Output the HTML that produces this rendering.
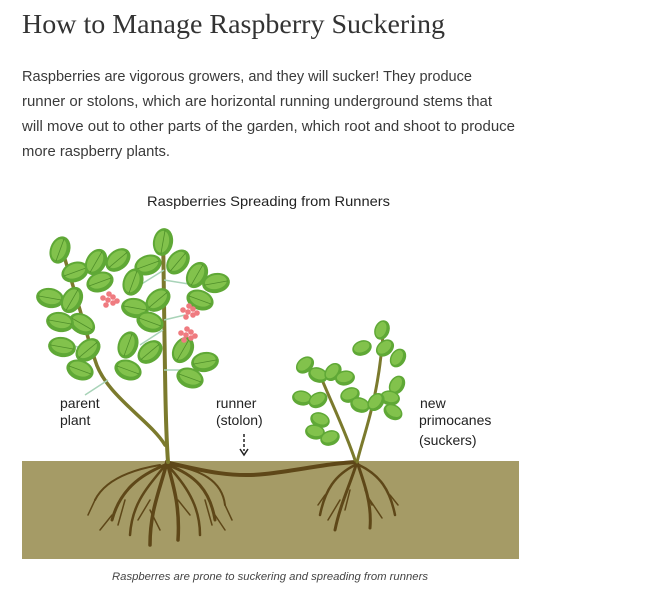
<!DOCTYPE html>
<html><head><meta charset="utf-8"><style>
body{margin:0;background:#fff;width:645px;height:600px;overflow:hidden}
svg{display:block}
</style></head><body>
<svg width="645" height="600" viewBox="0 0 645 600" xmlns="http://www.w3.org/2000/svg">
<defs>
<g id="lf"><ellipse cx="0" cy="0" rx="14" ry="10" fill="#5fa836"/><ellipse cx="0" cy="-1" rx="11" ry="7" fill="#82c24c"/><line x1="-12" y1="0" x2="12" y2="0" stroke="#4f8f2a" stroke-width="0.8"/></g>
<g id="sl"><ellipse cx="0" cy="0" rx="10" ry="7.5" fill="#5fa836"/><ellipse cx="0" cy="-1" rx="8" ry="5" fill="#82c24c"/></g>
<g id="fl" fill="#ef7b80"><circle cx="0" cy="0" r="2.8"/><circle cx="5" cy="-3" r="2.8"/><circle cx="5" cy="3" r="2.8"/><circle cx="-5" cy="-2" r="2.8"/><circle cx="-2" cy="5" r="2.8"/><circle cx="1" cy="-6" r="2.8"/><circle cx="9" cy="1" r="2.8"/></g>
</defs>
<text x="22" y="33" font-family="Liberation Serif, serif" font-size="27" fill="#333" textLength="423" lengthAdjust="spacingAndGlyphs">How to Manage Raspberry Suckering</text>
<g font-family="Liberation Sans, sans-serif" font-size="15" fill="#3a3a3a">
<text x="22" y="81" textLength="450" lengthAdjust="spacingAndGlyphs">Raspberries are vigorous growers, and they will sucker! They produce</text>
<text x="22" y="106" textLength="470" lengthAdjust="spacingAndGlyphs">runner or stolons, which are horizontal running underground stems that</text>
<text x="22" y="131" textLength="493" lengthAdjust="spacingAndGlyphs">will move out to other parts of the garden, which root and shoot to produce</text>
<text x="22" y="156" textLength="148" lengthAdjust="spacingAndGlyphs">more raspberry plants.</text>
</g>
<text x="147" y="206" font-family="Liberation Sans, sans-serif" font-size="14" fill="#222" textLength="243" lengthAdjust="spacingAndGlyphs">Raspberries Spreading from Runners</text>
<rect x="22" y="461" width="497" height="98" fill="#a59b66"/>
<path d="M165 462 C200 470 230 478 265 474 C300 470 330 463 358 462" stroke="#5e4718" stroke-width="4" fill="none"/>
<g stroke="#5e4718" fill="none" stroke-linecap="round">
<path d="M167 462 C160 490 150 510 150 545" stroke-width="3.5"/>
<path d="M167 462 C175 490 180 510 178 540" stroke-width="3.5"/>
<path d="M165 465 C140 475 120 490 112 520" stroke-width="3"/>
<path d="M168 465 C195 475 210 490 215 520" stroke-width="3"/>
<path d="M163 468 C145 490 132 505 130 535" stroke-width="2.5"/>
<path d="M170 468 C190 490 200 510 200 535" stroke-width="2.5"/>
<path d="M160 465 C130 470 105 480 95 500" stroke-width="2"/>
<path d="M172 465 C200 470 222 480 225 505" stroke-width="2"/>
<path d="M150 500 L138 520 M150 510 L160 530 M178 500 L190 515 M125 500 L118 525 M205 500 L212 525 M112 515 L100 530 M215 515 L225 530 M95 500 L88 515 M225 505 L232 520" stroke-width="1.5"/>
</g>
<g stroke="#5e4718" fill="none" stroke-linecap="round">
<path d="M357 462 C350 485 340 505 335 530" stroke-width="3"/>
<path d="M357 462 C365 485 372 505 370 528" stroke-width="3"/>
<path d="M355 465 C335 475 325 490 320 515" stroke-width="2.5"/>
<path d="M359 465 C380 475 390 490 395 515" stroke-width="2.5"/>
<path d="M340 500 L328 520 M370 500 L382 518 M325 495 L318 505 M390 495 L398 505 M350 490 L345 510 M365 490 L372 505" stroke-width="1.5"/>
</g>
<g stroke="#7b7a2d" fill="none" stroke-linecap="round">
<path d="M168 462 C165 420 165 360 163 232" stroke-width="4"/>
<path d="M165 445 C150 420 105 395 95 360 C85 330 75 290 62 250" stroke-width="3.5"/>
</g>
<g stroke="#a8d3b8" stroke-width="1.5">
<line x1="78" y1="300" x2="55" y2="295"/><line x1="90" y1="350" x2="70" y2="345"/><line x1="108" y1="380" x2="85" y2="395"/>
<line x1="164" y1="270" x2="140" y2="285"/><line x1="164" y1="280" x2="195" y2="285"/><line x1="163" y1="330" x2="140" y2="345"/><line x1="164" y1="370" x2="195" y2="370"/><line x1="164" y1="320" x2="185" y2="315"/>
<line x1="80" y1="270" x2="110" y2="258"/>
</g>
<g>
<use href="#lf" transform="translate(60,250) rotate(-70)"/><use href="#lf" transform="translate(75,272) rotate(-20)"/><use href="#lf" transform="translate(96,262) rotate(-60)"/><use href="#lf" transform="translate(118,260) rotate(-40)"/><use href="#lf" transform="translate(100,282) rotate(-20)"/>
<use href="#lf" transform="translate(50,298) rotate(10)"/><use href="#lf" transform="translate(72,300) rotate(-60)"/><use href="#lf" transform="translate(82,324) rotate(30)"/><use href="#lf" transform="translate(60,322) rotate(10)"/>
<use href="#lf" transform="translate(62,347) rotate(10)"/><use href="#lf" transform="translate(88,350) rotate(-40)"/><use href="#lf" transform="translate(80,370) rotate(20)"/>
<use href="#lf" transform="translate(163,242) rotate(-80)"/><use href="#lf" transform="translate(148,265) rotate(-20)"/><use href="#lf" transform="translate(178,262) rotate(-50)"/><use href="#lf" transform="translate(197,275) rotate(-60)"/><use href="#lf" transform="translate(216,283) rotate(-10)"/><use href="#lf" transform="translate(200,300) rotate(20)"/>
<use href="#lf" transform="translate(133,282) rotate(-70)"/><use href="#lf" transform="translate(135,308) rotate(10)"/><use href="#lf" transform="translate(158,300) rotate(-40)"/><use href="#lf" transform="translate(150,322) rotate(20)"/>
<use href="#lf" transform="translate(128,345) rotate(-70)"/><use href="#lf" transform="translate(128,370) rotate(20)"/><use href="#lf" transform="translate(150,352) rotate(-40)"/>
<use href="#lf" transform="translate(183,350) rotate(-60)"/><use href="#lf" transform="translate(205,362) rotate(-10)"/><use href="#lf" transform="translate(190,378) rotate(20)"/>
</g>
<use href="#fl" transform="translate(108,300)"/><use href="#fl" transform="translate(188,312)"/><use href="#fl" transform="translate(186,335)"/>
<g stroke="#7b7a2d" fill="none" stroke-linecap="round" stroke-width="3">
<path d="M357 462 C365 430 378 400 383 335"/>
<path d="M355 460 C345 430 330 400 318 370"/>
</g>
<g>
<use href="#sl" transform="translate(382,330) rotate(-70)"/><use href="#sl" transform="translate(362,348) rotate(-20)"/><use href="#sl" transform="translate(385,348) rotate(-40)"/><use href="#sl" transform="translate(398,358) rotate(-60)"/>
<use href="#sl" transform="translate(397,385) rotate(-60)"/><use href="#sl" transform="translate(390,398) rotate(10)"/><use href="#sl" transform="translate(393,412) rotate(30)"/>
<use href="#sl" transform="translate(350,395) rotate(-20)"/><use href="#sl" transform="translate(360,405) rotate(20)"/><use href="#sl" transform="translate(376,402) rotate(-50)"/>
<use href="#sl" transform="translate(305,365) rotate(-40)"/><use href="#sl" transform="translate(318,375) rotate(20)"/><use href="#sl" transform="translate(333,372) rotate(-50)"/><use href="#sl" transform="translate(345,378) rotate(-10)"/>
<use href="#sl" transform="translate(302,398) rotate(10)"/><use href="#sl" transform="translate(318,400) rotate(-30)"/><use href="#sl" transform="translate(320,420) rotate(20)"/>
<use href="#sl" transform="translate(315,432) rotate(10)"/><use href="#sl" transform="translate(330,438) rotate(-20)"/>
</g>
<g font-family="Liberation Sans, sans-serif" font-size="14" fill="#222">
<text x="60" y="408">parent</text><text x="60" y="425">plant</text>
<text x="216" y="408">runner</text><text x="216" y="425">(stolon)</text>
<text x="420" y="408">new</text><text x="419" y="425">primocanes</text><text x="419" y="445">(suckers)</text>
</g>
<line x1="244" y1="434" x2="244" y2="451" stroke="#222" stroke-width="1.5" stroke-dasharray="3,2"/>
<path d="M240 449 L244 455 L248 449" stroke="#222" stroke-width="1.5" fill="none"/>
<text x="112" y="580" font-family="Liberation Sans, sans-serif" font-size="11" font-style="italic" fill="#444" textLength="316" lengthAdjust="spacingAndGlyphs">Raspberres are prone to suckering and spreading from runners</text>
</svg>
</body></html>
